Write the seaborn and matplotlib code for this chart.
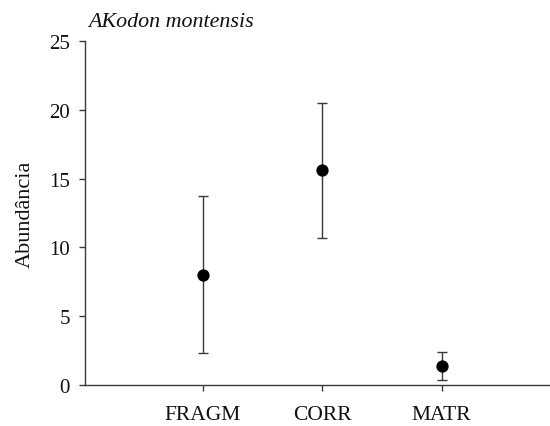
import matplotlib
matplotlib.use("Agg")
import matplotlib.pyplot as plt
import seaborn as sns
import pandas as pd

# Mean abundance of Akodon montensis per habitat, with error half-widths
sites = ["FRAGM", "CORR", "MATR"]
means = [8.0, 15.6, 1.4]
errors = [5.7, 4.9, 1.0]
y_ticks = [0, 5, 10, 15, 20, 25]

df = pd.DataFrame({"site": sites, "mean": means, "err": errors})

sns.set_theme(style="white")
plt.rcParams["font.family"] = ["Liberation Serif", "DejaVu Serif"]

fig = plt.figure(figsize=(5.5, 4.27), dpi=100)
ax = fig.add_axes([0.1545, 0.096, 0.8435, 0.806])

line_col = "#3a3a3a"
ax.errorbar(x=range(len(df)), y=df["mean"], yerr=df["err"], fmt="none",
            ecolor=line_col, elinewidth=1.0, capsize=3.8, capthick=1.0, zorder=2)
sns.pointplot(data=df, x="site", y="mean", order=sites, errorbar=None,
              linestyle="none", color="black", markers="o", markersize=6.8,
              ax=ax, zorder=3)

ax.set_xlim(-0.99, 2.9)
ax.set_ylim(0, 25)
ax.set_yticks(y_ticks)
ax.set_yticklabels([str(t) for t in y_ticks])
ax.set_xlabel("")
ax.set_ylabel("Abundância", fontsize=16, labelpad=10, color="#111111")

for side in ["top", "right"]:
    ax.spines[side].set_visible(False)
for side in ["left", "bottom"]:
    ax.spines[side].set_color(line_col)
    ax.spines[side].set_linewidth(1.0)

ax.tick_params(axis="both", which="major", direction="out", length=4,
               width=1.0, color=line_col, labelsize=15, pad=7,
               labelcolor="#111111")
ax.tick_params(axis="x", pad=10.5, labelsize=15.5)
ax.tick_params(left=True, bottom=True)

fig.text(0.16, 0.937, "AKodon montensis", fontsize=15.8, fontstyle="italic",
         ha="left", va="baseline", color="#111111")

fig.savefig("out.png", dpi=100)
